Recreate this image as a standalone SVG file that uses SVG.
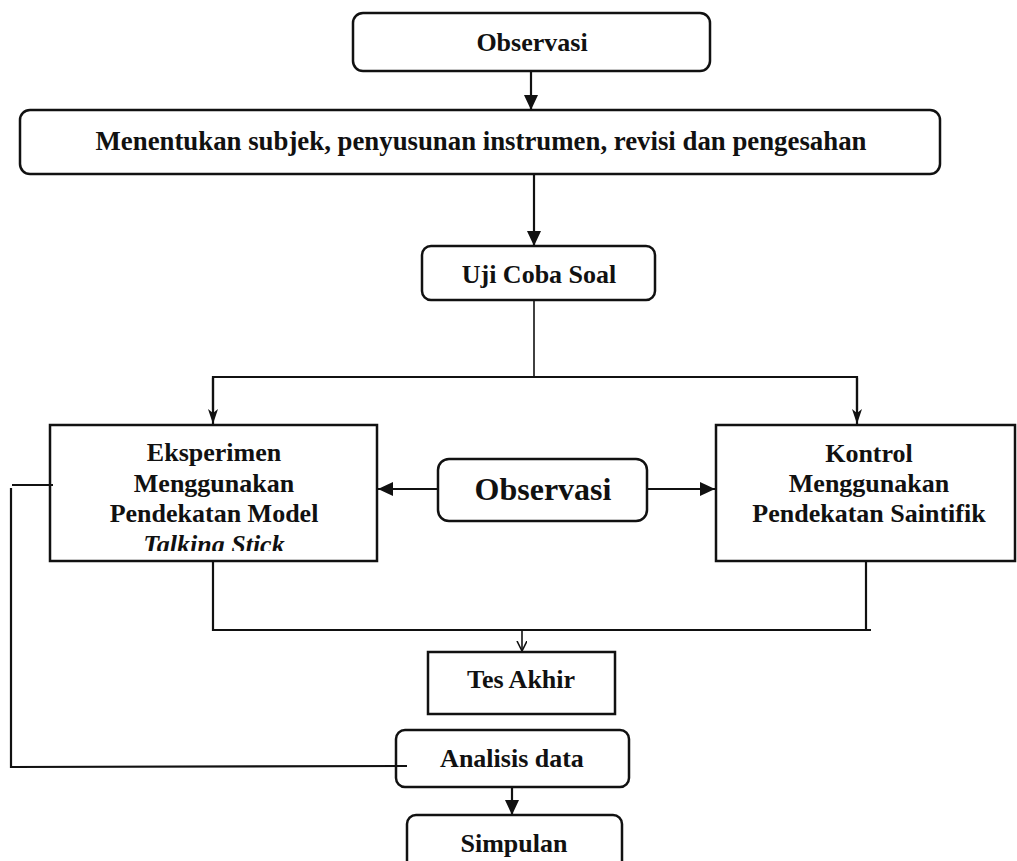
<svg xmlns="http://www.w3.org/2000/svg" width="1017" height="861" viewBox="0 0 1017 861">
<style>
.box{fill:#fff;stroke:#111;stroke-width:2.5}
.ln{fill:none;stroke:#111;stroke-width:2.2}
.t{font-family:"Liberation Serif","Times New Roman",serif;font-weight:bold;font-size:26px;fill:#111;text-anchor:middle}
</style>
<defs>
<marker id="tri" markerUnits="userSpaceOnUse" markerWidth="16" markerHeight="16" refX="15" refY="7" orient="auto">
<path d="M0,0 L15,7 L0,14 Z" fill="#111"/>
</marker>
<marker id="stl" markerUnits="userSpaceOnUse" markerWidth="16" markerHeight="12" refX="15" refY="5" orient="auto">
<path d="M0,0 L15,5 L0,10 L4,5 Z" fill="#111"/>
</marker>
<marker id="vee" markerUnits="userSpaceOnUse" markerWidth="12" markerHeight="12" refX="10" refY="5" orient="auto">
<path d="M0,0 L10,5 L0,10" fill="none" stroke="#111" stroke-width="1.6"/>
</marker>
<clipPath id="clipE"><rect x="50" y="425" width="327" height="126"/></clipPath>
</defs>
<rect width="1017" height="861" fill="#fff"/>

<g id="node-observasi-top">
<rect class="box" x="353" y="13" width="357" height="58" rx="10"/>
<text class="t" x="532" y="51">Observasi</text>
</g>
<g id="node-menentukan">
<rect class="box" x="20" y="110" width="920" height="64" rx="10"/>
<text class="t" x="481" y="150" style="font-size:26.8px">Menentukan subjek, penyusunan instrumen, revisi dan pengesahan</text>
</g>
<g id="node-uji">
<rect class="box" x="422" y="246" width="233" height="54" rx="9"/>
<text class="t" x="539" y="283">Uji Coba Soal</text>
</g>
<g id="node-eksperimen">
<rect class="box" x="50" y="425" width="327" height="136"/>
<g clip-path="url(#clipE)">
<text class="t" x="214" y="461">Eksperimen</text>
<text class="t" x="214" y="492">Menggunakan</text>
<text class="t" x="214" y="522">Pendekatan Model</text>
<text class="t" x="214" y="553" font-style="italic">Talking Stick</text>
</g>
</g>
<g id="node-observasi-mid">
<rect class="box" x="438" y="459" width="209" height="62" rx="11"/>
<text class="t" x="543" y="500" style="font-size:32px">Observasi</text>
</g>
<g id="node-kontrol">
<rect class="box" x="716" y="425" width="299" height="136"/>
<text class="t" x="869" y="462">Kontrol</text>
<text class="t" x="869" y="492">Menggunakan</text>
<text class="t" x="869" y="522">Pendekatan Saintifik</text>
</g>
<g id="node-tes-akhir">
<rect class="box" x="428" y="652" width="187" height="62"/>
<text class="t" x="521" y="688">Tes Akhir</text>
</g>
<g id="node-analisis">
<rect class="box" x="396" y="730" width="233" height="57" rx="9"/>
<text class="t" x="512" y="767">Analisis data</text>
</g>
<g id="node-simpulan">
<rect class="box" x="407" y="815" width="215" height="60" rx="9"/>
<text class="t" x="514" y="852">Simpulan</text>
</g>

<g id="connectors">
<line class="ln" x1="531" y1="72" x2="531" y2="110" marker-end="url(#tri)"/>
<line class="ln" x1="534" y1="175" x2="534" y2="246" marker-end="url(#tri)"/>
<line class="ln" x1="534" y1="301" x2="534" y2="377" style="stroke-width:1.6"/>
<polyline class="ln" points="213,410 213,377 857,377 857,410"/>
<line class="ln" x1="213" y1="378" x2="213" y2="424" marker-end="url(#stl)"/>
<line class="ln" x1="857" y1="378" x2="857" y2="424" marker-end="url(#stl)"/>
<line class="ln" x1="437" y1="489" x2="378" y2="489" marker-end="url(#tri)"/>
<line class="ln" x1="648" y1="489" x2="715" y2="489" marker-end="url(#tri)"/>
<polyline class="ln" points="213,562 213,630 871,630"/>
<line class="ln" x1="866" y1="562" x2="866" y2="630"/>
<line class="ln" x1="522" y1="630" x2="522" y2="651" style="stroke-width:1.6" marker-end="url(#vee)"/>
<line class="ln" x1="12" y1="485" x2="53" y2="485"/>
<polyline class="ln" points="11,488 11,767 407,766"/>
<line class="ln" x1="512" y1="788" x2="512" y2="815" marker-end="url(#tri)"/>
</g>
</svg>
